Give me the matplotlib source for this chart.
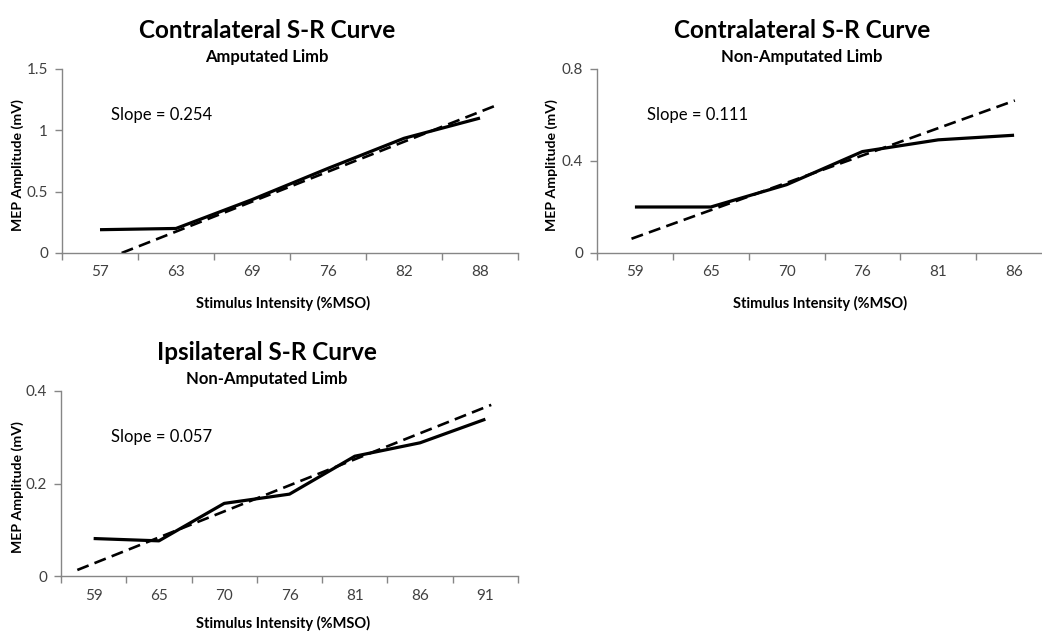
import numpy as np
import matplotlib
matplotlib.use("Agg")
import matplotlib.pyplot as plt

plt.rcParams['font.family'] = ['Lato', 'DejaVu Sans']

# Panel data
amp_labels = ['57', '63', '69', '76', '82', '88']
amp_values = [0.19, 0.20, 0.435, 0.69, 0.935, 1.10]
amp_trend_x = [0.285, 5.2]
amp_trend_y = [0.0, 1.20]

non_labels = ['59', '65', '70', '76', '81', '86']
non_values = [0.20, 0.20, 0.297, 0.441, 0.492, 0.512]
non_trend_x = [-0.045, 5.01]
non_trend_y = [0.062, 0.663]

ips_labels = ['59', '65', '70', '76', '81', '86', '91']
ips_values = [0.081, 0.076, 0.157, 0.177, 0.259, 0.288, 0.339]
ips_trend_x = [-0.25, 6.09]
ips_trend_y = [0.013, 0.370]

W, H = 1042, 633
fig = plt.figure(figsize=(W / 100, H / 100), dpi=100)

AXIS_COLOR = '#868686'
TEXT_COLOR = '#404040'


def px_axes(left, right, top, bottom):
    return fig.add_axes([left / W, 1 - bottom / H, (right - left) / W, (bottom - top) / H])


def panel(ax, labels, values, tx, ty, ymax, yticks, yticklabels):
    n = len(labels)
    x = np.arange(n)
    ax.plot(x, values, color='black', lw=2.3, solid_capstyle='butt', zorder=3)
    ax.plot(tx, ty, color='black', lw=1.9, linestyle=(0, (4.6, 2.4)), zorder=2)
    ax.set_xlim(-0.5, n - 0.5)
    ax.set_ylim(0, ymax)
    for s in ['top', 'right']:
        ax.spines[s].set_visible(False)
    for s in ['left', 'bottom']:
        ax.spines[s].set_color(AXIS_COLOR)
        ax.spines[s].set_linewidth(1.0)
    # category boundaries carry the tick marks, labels sit at category centers
    ax.set_xticks(np.arange(n + 1) - 0.5)
    ax.set_xticklabels([])
    ax.set_xticks(x, minor=True)
    ax.set_xticklabels(labels, minor=True)
    ax.tick_params(axis='x', which='major', direction='out', length=5,
                   color=AXIS_COLOR, width=1.0)
    ax.tick_params(axis='x', which='minor', length=0, pad=9,
                   labelsize=11, labelcolor=TEXT_COLOR)
    ax.set_yticks(yticks)
    ax.set_yticklabels(yticklabels)
    ax.tick_params(axis='y', direction='out', length=5, color=AXIS_COLOR,
                   width=1.0, labelsize=11, labelcolor=TEXT_COLOR, pad=5)
    ax.patch.set_alpha(0)
    return ax


def label_block(cx, title, title_y, subtitle, sub_y, ylab_x, ylab_y, xlab_x, xlab_y):
    fig.text(cx / W, 1 - title_y / H, title, ha='center', va='center',
             fontsize=17.5, fontweight='bold', color='black')
    fig.text(cx / W, 1 - sub_y / H, subtitle, ha='center', va='center',
             fontsize=12, fontweight='bold', color='black')
    fig.text(ylab_x / W, 1 - ylab_y / H, 'MEP Amplitude (mV)', ha='center', va='center',
             rotation=90, fontsize=10.2, fontweight='bold', color='black')
    fig.text(xlab_x / W, 1 - xlab_y / H, 'Stimulus Intensity (%MSO)', ha='center',
             va='center', fontsize=10.5, fontweight='bold', color='black')


ax1 = px_axes(62, 518, 69, 253)
panel(ax1, amp_labels, amp_values, amp_trend_x, amp_trend_y, 1.5,
      [0, 0.5, 1, 1.5], ['0', '0.5', '1', '1.5'])
label_block(267, 'Contralateral S-R Curve', 30, 'Amputated Limb', 57, 18, 165, 283, 303)
fig.text(111 / W, 1 - 115 / H, 'Slope = 0.254', ha='left', va='center',
         fontsize=12, color='black')

ax2 = px_axes(597, 1052, 69, 253)
panel(ax2, non_labels, non_values, non_trend_x, non_trend_y, 0.8,
      [0, 0.4, 0.8], ['0', '0.4', '0.8'])
label_block(802, 'Contralateral S-R Curve', 30, 'Non-Amputated Limb', 57, 552, 165, 820, 303)
fig.text(647 / W, 1 - 115 / H, 'Slope = 0.111', ha='left', va='center',
         fontsize=12, color='black')

ax3 = px_axes(61, 518, 391, 576)
panel(ax3, ips_labels, ips_values, ips_trend_x, ips_trend_y, 0.4,
      [0, 0.2, 0.4], ['0', '0.2', '0.4'])
label_block(267, 'Ipsilateral S-R Curve', 352, 'Non-Amputated Limb', 379, 18, 487, 283, 623)
fig.text(111 / W, 1 - 437 / H, 'Slope = 0.057', ha='left', va='center',
         fontsize=12, color='black')

fig.savefig('out.png', dpi=100)
